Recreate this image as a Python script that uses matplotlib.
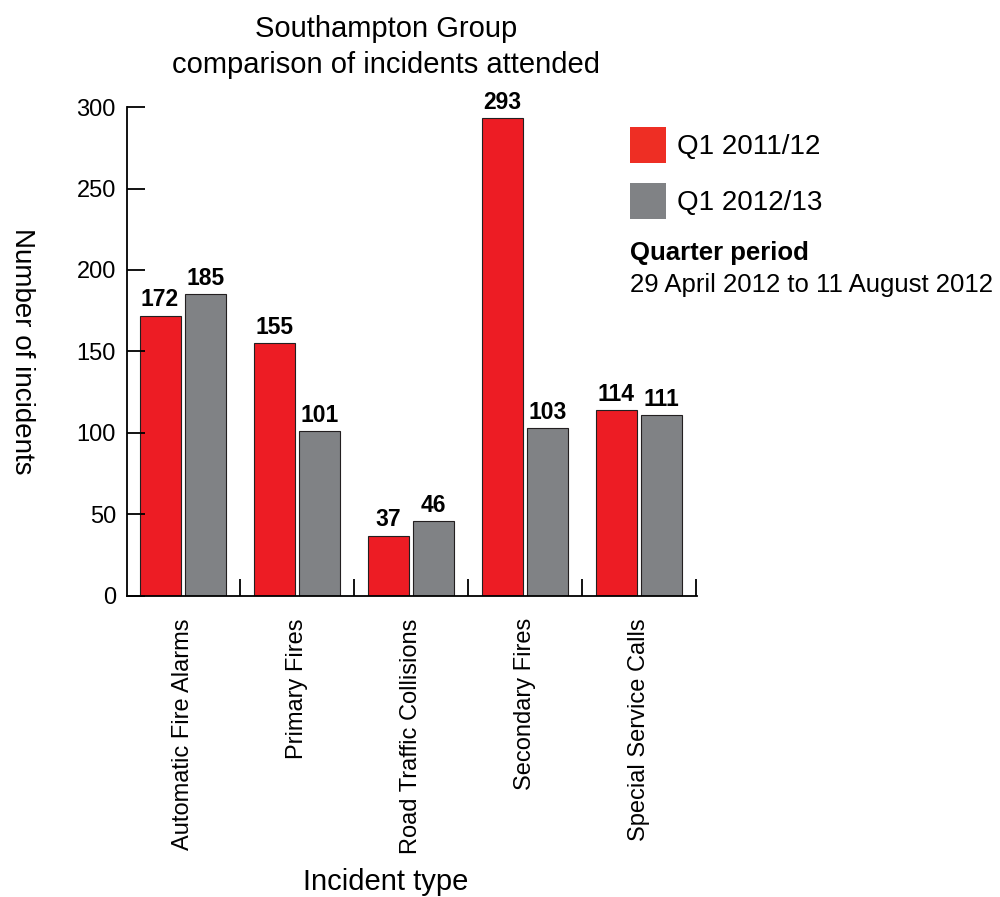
import matplotlib
matplotlib.use("Agg")
import matplotlib.pyplot as plt
from matplotlib.patches import Patch
import numpy as np

plt.rcParams['font.family'] = ['Liberation Sans', 'DejaVu Sans']

categories = ["Automatic Fire Alarms", "Primary Fires", "Road Traffic Collisions",
              "Secondary Fires", "Special Service Calls"]
q1_2011 = [172, 155, 37, 293, 114]
q1_2012 = [185, 101, 46, 103, 111]
series_names = ["Q1 2011/12", "Q1 2012/13"]
y_ticks = [0, 50, 100, 150, 200, 250, 300]

RED = '#ED1C24'
GREY = '#808285'
EDGE = '#231F20'

fig = plt.figure(figsize=(10, 8.97), dpi=100)
ax = fig.add_axes([0.127, 0.3356, 0.570, 0.5451])

x = np.arange(len(categories))
w = 0.36
b1 = ax.bar(x - 0.2, q1_2011, w, color=RED, edgecolor=EDGE, linewidth=0.8)
b2 = ax.bar(x + 0.2, q1_2012, w, color=GREY, edgecolor=EDGE, linewidth=0.8)
ax.bar_label(b1, padding=3, fontsize=16.5, fontweight='bold')
ax.bar_label(b2, padding=3, fontsize=16.5, fontweight='bold')

ax.set_xlim(-0.49, 4.51)
ax.set_ylim(0, 300)
ax.set_yticks(y_ticks)
ax.set_xticks(x)
ax.set_xticklabels(categories, rotation=90, fontsize=17)
ax.set_xticks(x + 0.5, minor=True)
ax.tick_params(axis='x', which='major', length=0, pad=16)
ax.tick_params(axis='x', which='minor', direction='in', length=12, width=1.3)
ax.tick_params(axis='y', direction='in', length=13, width=1.3, labelsize=17, pad=8)

for s in ['top', 'right']:
    ax.spines[s].set_visible(False)
for s in ['left', 'bottom']:
    ax.spines[s].set_linewidth(1.3)

ax.set_ylabel("Number of incidents", fontsize=20, rotation=270, va='center')
ax.yaxis.set_label_coords(-0.184, 0.5)
ax.set_xlabel("Incident type", fontsize=21, va='center')
ax.xaxis.set_label_coords(0.453, -0.585)

fig.text(0.386, 1 - 37 / 897, "Southampton Group", fontsize=21, ha='center', va='baseline')
fig.text(0.386, 1 - 73 / 897, "comparison of incidents attended", fontsize=21,
         ha='center', va='baseline')

handles = [Patch(facecolor='#EE2E24', edgecolor='none'),
           Patch(facecolor=GREY, edgecolor='none')]
fig.legend(handles, series_names, loc='upper left', bbox_to_anchor=(0.630, 1 - 127 / 897),
           frameon=False, fontsize=20, handlelength=1.3, handleheight=1.615,
           handletextpad=0.4, labelspacing=0.72, borderpad=0, borderaxespad=0)

fig.text(0.630, 1 - 260 / 897, "Quarter period", fontsize=18.5, fontweight='bold',
         va='baseline')
fig.text(0.630, 1 - 292 / 897, "29 April 2012 to 11 August 2012", fontsize=18.5,
         va='baseline')

fig.savefig("out.png", dpi=100)
